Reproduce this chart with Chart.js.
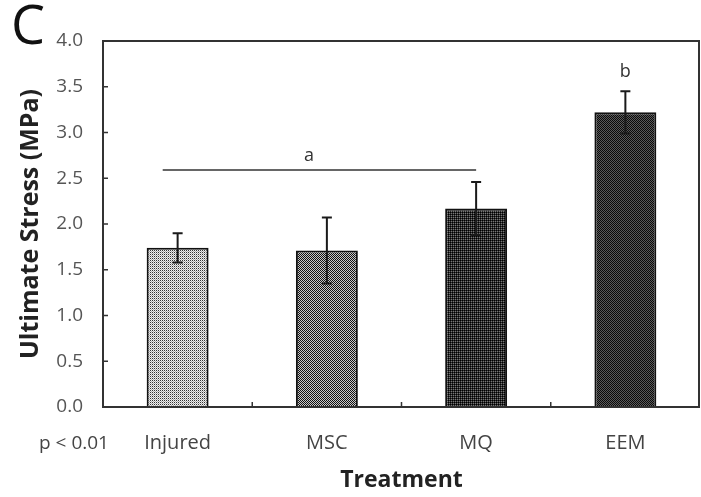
<!DOCTYPE html>
<html>
<head>
<meta charset="utf-8">
<script src="https://cdn.jsdelivr.net/npm/chart.js@4"></script>
<style>
  html, body { margin: 0; padding: 0; background: #ffffff; }
  #wrap { width: 701px; height: 497px; }
</style>
</head>
<body>
<div id="wrap"><canvas id="c" width="701" height="497"></canvas></div>
<script>
// ---- data ----
const categories = ['Injured', 'MSC', 'MQ', 'EEM'];
const stressMeans = [1.74, 1.71, 2.17, 3.22];
const stressErrors = [0.16, 0.36, 0.29, 0.23];
const yTickValues = [0.0, 0.5, 1.0, 1.5, 2.0, 2.5, 3.0, 3.5, 4.0];
const groupLineFrom = -0.1;   // category index where line "a" starts
const groupLineTo = 2.0;      // category index where line "a" ends
const groupLineValue = 2.59;
const groupLetters = ['a', 'b'];
const groupLetterCats = [0.88, 3];
const groupLetterValues = [2.75, 3.66];
const pValueText = 'p < 0.01';
const panelLetter = 'C';

// halftone-like patterns for the bars
function makePattern(cells) {
  const p = document.createElement('canvas');
  p.width = 2; p.height = 2;
  const g = p.getContext('2d');
  cells.forEach((col, k) => {
    g.fillStyle = col;
    g.fillRect(k % 2, Math.floor(k / 2), 1, 1);
  });
  return g.createPattern(p, 'repeat');
}
const fills = [
  makePattern(['#333', '#eeeeee', '#eeeeee', '#aaa']),
  makePattern(['#111', '#c8c8c8', '#c8c8c8', '#111']),
  makePattern(['#000', '#2a2a2a', '#2a2a2a', '#777']),
  makePattern(['#0a0a0a', '#5a5a5a', '#5a5a5a', '#0a0a0a'])
];

const annotate = {
  id: 'annotate',
  afterDatasetsDraw(chart) {
    const ctx = chart.ctx;
    const xs = chart.scales.x, ys = chart.scales.y;
    const a = chart.chartArea;
    ctx.save();
    // error bars
    ctx.strokeStyle = '#1a1a1a';
    ctx.lineWidth = 2;
    stressMeans.forEach((m, i) => {
      const x = xs.getPixelForValue(i);
      const yt = ys.getPixelForValue(m + stressErrors[i]);
      const yb = ys.getPixelForValue(m - stressErrors[i]);
      ctx.beginPath();
      ctx.moveTo(x, yt); ctx.lineTo(x, yb);
      ctx.moveTo(x - 5, yt); ctx.lineTo(x + 5, yt);
      ctx.moveTo(x - 5, yb); ctx.lineTo(x + 5, yb);
      ctx.stroke();
    });
    // plot box
    ctx.strokeStyle = '#333';
    ctx.lineWidth = 2;
    ctx.strokeRect(a.left, a.top, a.right - a.left - 1, a.bottom - a.top);
    // inner y ticks
    ctx.lineWidth = 1.5;
    ctx.beginPath();
    yTickValues.forEach(v => {
      const y = ys.getPixelForValue(v);
      ctx.moveTo(a.left, y); ctx.lineTo(a.left + 5, y);
    });
    // inner x ticks between categories
    for (let i = 0; i < categories.length - 1; i++) {
      const x = (xs.getPixelForValue(i) + xs.getPixelForValue(i + 1)) / 2;
      ctx.moveTo(x, a.bottom); ctx.lineTo(x, a.bottom - 5);
    }
    ctx.stroke();
    // grouping line
    const step = xs.getPixelForValue(1) - xs.getPixelForValue(0);
    const x0 = xs.getPixelForValue(0) + groupLineFrom * step;
    const x1 = xs.getPixelForValue(0) + groupLineTo * step;
    const gy = ys.getPixelForValue(groupLineValue);
    ctx.strokeStyle = '#333';
    ctx.lineWidth = 1.5;
    ctx.beginPath(); ctx.moveTo(x0, gy); ctx.lineTo(x1, gy); ctx.stroke();
    // letters
    ctx.fillStyle = '#333';
    ctx.font = '18px "Open Sans"';
    ctx.textAlign = 'center';
    ctx.textBaseline = 'middle';
    groupLetters.forEach((t, k) => {
      const x = xs.getPixelForValue(0) + groupLetterCats[k] * step;
      ctx.fillText(t, x, ys.getPixelForValue(groupLetterValues[k]));
    });
    // p value note
    ctx.fillStyle = '#444';
    ctx.font = '19px "Open Sans"';
    ctx.fillText(pValueText, 74, 444);
    // panel letter
    ctx.fillStyle = '#111';
    ctx.font = '54px "Open Sans"';
    ctx.fillText(panelLetter, 28, 29);
    ctx.restore();
  }
};

new Chart(document.getElementById('c'), {
  type: 'bar',
  data: {
    labels: categories,
    datasets: [{
      data: stressMeans,
      backgroundColor: fills,
      borderColor: '#111',
      borderWidth: 2,
      borderSkipped: 'bottom',
      categoryPercentage: 1,
      barPercentage: 0.415
    }]
  },
  options: {
    responsive: false,
    devicePixelRatio: 1,
    animation: false,
    layout: { padding: { top: 41, right: 1, left: 0, bottom: 0 } },
    plugins: { legend: { display: false }, tooltip: { enabled: false } },
    scales: {
      x: {
        offset: true,
        grid: { display: false, drawTicks: false },
        border: { display: false },
        ticks: { color: '#444', padding: 24, font: { family: 'Open Sans', size: 20 } },
        title: {
          display: true, text: 'Treatment', color: '#222',
          font: { family: 'Open Sans', size: 23, weight: 'bold' },
          padding: { top: 0, bottom: 3 }
        },
        afterFit(s) { s.height = 90; }
      },
      y: {
        min: 0, max: 4,
        grid: { display: false, drawTicks: false },
        border: { display: false },
        afterBuildTicks(s) { s.ticks = yTickValues.map(v => ({ value: v })); },
        ticks: {
          color: '#555', padding: 20,
          font: { family: 'Open Sans', size: 19 },
          callback: v => Number(v).toFixed(1)
        },
        title: {
          display: true, text: 'Ultimate Stress (MPa)', color: '#222',
          font: { family: 'Open Sans', size: 25, weight: 'bold' },
          padding: { top: 16, bottom: 0 }
        },
        afterFit(s) { s.width = 103; }
      }
    }
  },
  plugins: [annotate]
});
</script>
</body>
</html>
